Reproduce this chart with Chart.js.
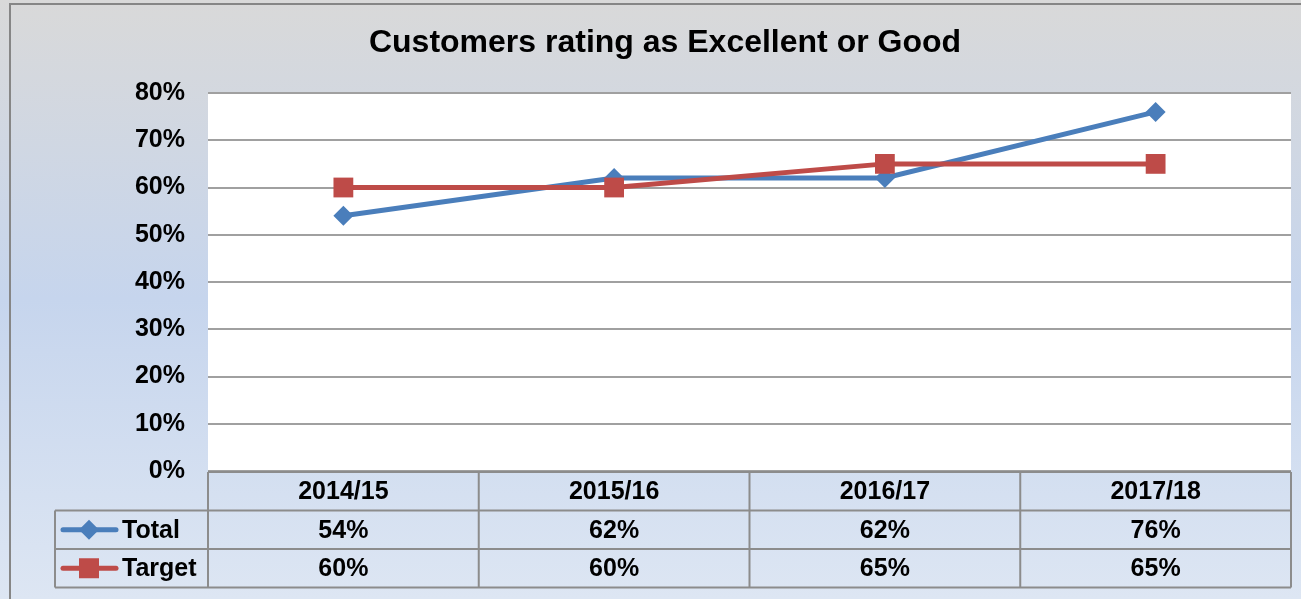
<!DOCTYPE html>
<html>
<head>
<meta charset="utf-8">
<script src="https://cdn.jsdelivr.net/npm/chart.js@4.4.1/dist/chart.umd.min.js"></script>
<style>
  html, body { margin: 0; padding: 0; background: #fff; }
  #wrap { width: 1301px; height: 599px; }
</style>
</head>
<body>
<div id="wrap"><canvas id="ratingChart" width="1301" height="599"></canvas></div>
<script>
const chartTitle = 'Customers rating as Excellent or Good';
const categories = ['2014/15', '2015/16', '2016/17', '2017/18'];
const totalValues = [0.54, 0.62, 0.62, 0.76];
const targetValues = [0.60, 0.60, 0.65, 0.65];
const seriesNames = ['Total', 'Target'];

const FONT = '"Liberation Sans", Arial, sans-serif';
const BLUE = '#4a7ebb';
const RED = '#be4b48';
const LINE_GREY = '#8c8c8c';

// background, outer frame and white plot area
const backgroundPlugin = {
    id: 'background',
    beforeDraw(chart) {
        const ctx = chart.ctx;
        const area = chart.chartArea;
        const grad = ctx.createLinearGradient(0, 0, 0, chart.height);
        grad.addColorStop(0, '#d9d9d9');
        grad.addColorStop(0.5, '#c6d5ed');
        grad.addColorStop(1, '#dde6f3');
        ctx.save();
        ctx.fillStyle = grad;
        ctx.fillRect(0, 0, chart.width, chart.height);
        ctx.strokeStyle = '#868686';
        ctx.lineWidth = 2;
        ctx.strokeRect(10, 4, chart.width + 40, chart.height + 40);
        ctx.fillStyle = '#ffffff';
        ctx.fillRect(area.left, area.top, area.right - area.left, area.bottom - area.top);
        ctx.restore();
    }
};

function drawMarker(ctx, style, x, y, color) {
    ctx.fillStyle = color;
    ctx.beginPath();
    if (style === 'rectRot') {
        ctx.moveTo(x, y - 10);
        ctx.lineTo(x + 10, y);
        ctx.lineTo(x, y + 10);
        ctx.lineTo(x - 10, y);
        ctx.closePath();
    } else {
        ctx.rect(x - 10, y - 10, 20, 20);
    }
    ctx.fill();
}

// title and data table below the plot
const tablePlugin = {
    id: 'dataTable',
    afterDraw(chart) {
        const ctx = chart.ctx;
        const area = chart.chartArea;
        const xScale = chart.scales.x;
        const n = chart.data.labels.length;
        const colW = (xScale.right - xScale.left) / n;
        const top = area.bottom + 1;
        const rowH = 38.5;
        const legendLeft = 55;
        const datasets = chart.data.datasets.slice().sort((a, b) => a.tableRow - b.tableRow);
        const bottom = top + rowH * (datasets.length + 1);

        ctx.save();
        ctx.strokeStyle = LINE_GREY;
        ctx.lineWidth = 2;
        ctx.beginPath();
        // horizontal rules
        ctx.moveTo(xScale.left, top);
        ctx.lineTo(xScale.right, top);
        for (let r = 1; r <= datasets.length + 1; r++) {
            ctx.moveTo(legendLeft, top + r * rowH);
            ctx.lineTo(xScale.right, top + r * rowH);
        }
        // vertical rules
        ctx.moveTo(legendLeft, top + rowH);
        ctx.lineTo(legendLeft, bottom);
        for (let c = 0; c <= n; c++) {
            const x = xScale.left + c * colW;
            ctx.moveTo(x, top);
            ctx.lineTo(x, bottom);
        }
        ctx.stroke();

        ctx.fillStyle = '#000';
        ctx.font = 'bold 25px ' + FONT;
        ctx.textAlign = 'center';
        ctx.textBaseline = 'middle';
        chart.data.labels.forEach((lab, i) => {
            ctx.fillText(lab, xScale.getPixelForValue(i), top + rowH / 2 + 1);
        });
        datasets.forEach((ds, r) => {
            const cy = top + rowH * (r + 1) + rowH / 2 + 1;
            ds.data.forEach((v, i) => {
                ctx.fillStyle = '#000';
                ctx.fillText(Math.round(v * 100) + '%', xScale.getPixelForValue(i), cy);
            });
            // legend key
            ctx.strokeStyle = ds.borderColor;
            ctx.lineWidth = 5;
            ctx.lineCap = 'round';
            ctx.beginPath();
            ctx.moveTo(63, cy - 1);
            ctx.lineTo(116, cy - 1);
            ctx.stroke();
            drawMarker(ctx, ds.pointStyle, 89, cy - 1, ds.backgroundColor);
            ctx.fillStyle = '#000';
            ctx.textAlign = 'left';
            ctx.fillText(ds.label, 122, cy);
            ctx.textAlign = 'center';
        });

        // title
        ctx.font = 'bold 32px ' + FONT;
        ctx.fillText(chartTitle, 665, 43);
        ctx.restore();
    }
};

new Chart(document.getElementById('ratingChart').getContext('2d'), {
    type: 'line',
    data: {
        labels: categories,
        datasets: [{
            label: seriesNames[0],
            data: totalValues,
            tableRow: 0,
            order: 2,
            borderColor: BLUE,
            backgroundColor: BLUE,
            borderWidth: 5,
            pointStyle: 'rectRot',
            pointRadius: 10,
            pointBorderWidth: 0,
            tension: 0
        }, {
            label: seriesNames[1],
            data: targetValues,
            tableRow: 1,
            order: 1,
            borderColor: RED,
            backgroundColor: RED,
            borderWidth: 5,
            pointStyle: 'rect',
            pointRadius: 14,
            pointBorderWidth: 0,
            tension: 0
        }]
    },
    options: {
        responsive: false,
        animation: false,
        layout: { autoPadding: false, padding: { left: 0, right: 10, top: 93, bottom: 128 } },
        plugins: {
            legend: { display: false },
            tooltip: { enabled: false },
            title: { display: false }
        },
        scales: {
            x: {
                display: false,
                offset: true
            },
            y: {
                min: 0,
                max: 0.8,
                afterFit(scale) { scale.width = 208; },
                border: { display: false },
                grid: { color: '#a0a0a0', lineWidth: 2, drawTicks: false },
                ticks: {
                    stepSize: 0.1,
                    padding: 23,
                    color: '#000',
                    font: { family: FONT, size: 25, weight: 'bold', lineHeight: 1.0 },
                    callback: v => Math.round(v * 100) + '%'
                }
            }
        }
    },
    plugins: [backgroundPlugin, tablePlugin]
});
</script>
</body>
</html>
